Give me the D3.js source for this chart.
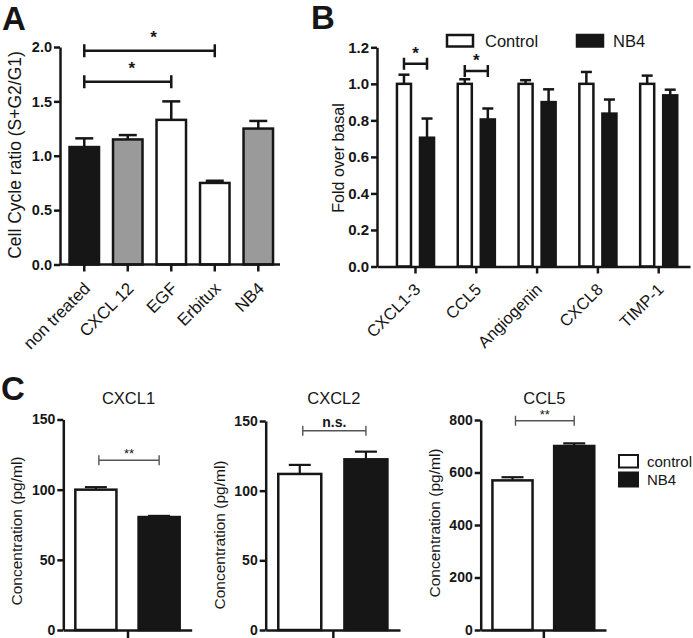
<!DOCTYPE html>
<html><head><meta charset="utf-8">
<script src="https://cdn.jsdelivr.net/npm/d3@7"></script>
<style>
body{margin:0;background:#fff;}
svg{display:block;font-family:"Liberation Sans",Arial,Helvetica,sans-serif;}
</style></head><body>
<svg id="fig" width="693" height="638"></svg>
<script>
// ---------- DATA ----------
// Panel A
const catsA = ["non treated", "CXCL 12", "EGF", "Erbitux", "NB4"];
const typeA = ["untreated", "chemokine", "growth", "growth", "chemokine"];
const valsA = [1.08, 1.15, 1.33, 0.75, 1.25];
const errsA = [0.08, 0.04, 0.17, 0.02, 0.07];
const ticksA = [0, 0.5, 1.0, 1.5, 2.0];
const sigFromA = [0, 0];
const sigToA = [2, 3];
const sigLevelA = [1.68, 1.965];
const sigLabelA = ["*", "*"];

// Panel B
const catsB = ["CXCL1-3", "CCL5", "Angiogenin", "CXCL8", "TIMP-1"];
const seriesB = ["Control", "NB4"];
const controlB = [1.0, 1.0, 1.0, 1.0, 1.0];
const controlErrB = [0.05, 0.025, 0.02, 0.065, 0.045];
const nb4B = [0.705, 0.805, 0.90, 0.837, 0.937];
const nb4ErrB = [0.105, 0.06, 0.07, 0.077, 0.031];
const ticksB = [0, 0.2, 0.4, 0.6, 0.8, 1.0, 1.2];
const sigCatB = [0, 1];
const sigLevelB = [1.11, 1.07];
const sigLabelB = ["*", "*"];

// Panel C
const panelsC = ["CXCL1", "CXCL2", "CCL5"];
const groupsC = ["control", "NB4"];
const cxcl1Vals = [100, 80.5];
const cxcl1Errs = [1.8, 0.8];
const cxcl2Vals = [112, 122.5];
const cxcl2Errs = [6.5, 5.5];
const ccl5Vals = [570, 701];
const ccl5Errs = [12, 10];
const maxC = [150, 150, 800];
const ticksCXCL = [0, 50, 100, 150];
const ticksCCL5 = [0, 200, 400, 600, 800];
const sigLabelC = ["**", "n.s.", "**"];
const sigLevelC = [121, 143, 797];

// ---------- DRAWING ----------
const svg = d3.select("#fig");
const INK = "#161616";
const colorA = d3.scaleOrdinal(["untreated", "chemokine", "growth"], [INK, "#9a9a9a", "#ffffff"]);
const colorB = d3.scaleOrdinal(seriesB, ["#ffffff", INK]);
const colorC = d3.scaleOrdinal(groupsC, ["#ffffff", INK]);

function styleAxis(g, sw, fs, bold) {
  g.select(".domain").attr("stroke", INK).attr("stroke-width", sw);
  g.selectAll(".tick line").attr("stroke", INK).attr("stroke-width", sw);
  g.selectAll(".tick text").attr("fill", INK).attr("font-size", fs)
    .attr("font-weight", bold ? "bold" : "normal")
    .attr("font-family", '"Liberation Sans",Arial,sans-serif');
}
function panelLetter(t, x, y) {
  svg.append("text").attr("x", x).attr("y", y).text(t)
    .attr("font-size", 33).attr("font-weight", "bold").attr("fill", INK);
}
function yLabel(t, x, y, fs) {
  svg.append("text").attr("transform", `translate(${x},${y}) rotate(-90)`)
    .attr("text-anchor", "middle").attr("dy", "0.35em")
    .attr("font-size", fs).attr("fill", INK).text(t);
}
function errBar(g, cx, yTop, yErr, cap, sw) {
  g.append("line").attr("x1", cx).attr("x2", cx).attr("y1", yTop).attr("y2", yErr)
    .attr("stroke", INK).attr("stroke-width", sw);
  g.append("line").attr("x1", cx - cap / 2).attr("x2", cx + cap / 2).attr("y1", yErr).attr("y2", yErr)
    .attr("stroke", INK).attr("stroke-width", sw);
}
function bracket(g, x1, x2, y, h, sw, color) {
  g.append("path").attr("d", `M${x1},${y - h}V${y + h}M${x1},${y}H${x2}M${x2},${y - h}V${y + h}`)
    .attr("fill", "none").attr("stroke", color).attr("stroke-width", sw);
}

// ===== Panel A =====
panelLetter("A", 2, 30);
const gA = svg.append("g");
const yA = d3.scaleLinear().domain([0, 2]).range([264.5, 47]);
const xA = d3.scaleBand().domain(catsA).range([61, 280]).paddingInner(0.322).paddingOuter(0.178).align(0.55);

catsA.forEach((c, i) => {
  const cx = xA(c) + xA.bandwidth() / 2;
  errBar(gA, cx, yA(valsA[i]), yA(valsA[i] + errsA[i]), 18, 2.5);
});
gA.selectAll("rect.barA").data(catsA).join("rect").attr("class", "barA")
  .attr("x", c => xA(c)).attr("width", xA.bandwidth())
  .attr("y", (c, i) => yA(valsA[i])).attr("height", (c, i) => yA(0) - yA(valsA[i]))
  .attr("fill", (c, i) => colorA(typeA[i])).attr("stroke", INK).attr("stroke-width", 2.5);

const axYA = gA.append("g").attr("transform", "translate(60,0)")
  .call(d3.axisLeft(yA).tickValues(ticksA).tickFormat(d3.format(".1f")).tickSize(6).tickSizeOuter(0).tickPadding(2));
styleAxis(axYA, 2.5, 14.5, true);
const axXA = gA.append("g").attr("transform", `translate(0,${yA(0)})`)
  .call(d3.axisBottom(xA).tickSize(7).tickSizeOuter(0));
styleAxis(axXA, 2.5, 17, false);
axXA.select(".domain").attr("d", `M60,0H280`);
axXA.selectAll(".tick text").attr("y", null).attr("dy", null)
  .attr("text-anchor", "end").attr("transform", "translate(7,25) rotate(-45)");
yLabel("Cell Cycle ratio (S+G2/G1)", 15, 155, 17.5);

sigLabelA.forEach((lab, i) => {
  const x1 = xA(catsA[sigFromA[i]]) + xA.bandwidth() / 2;
  const x2 = xA(catsA[sigToA[i]]) + xA.bandwidth() / 2;
  const y = yA(sigLevelA[i]);
  bracket(gA, x1, x2, y, 6.5, 2.5, INK);
  gA.append("text").attr("x", (x1 + x2) / 2 + 4).attr("y", y - 8).attr("text-anchor", "middle")
    .attr("font-size", 17).attr("font-weight", "bold").attr("fill", INK).text(lab);
});

// ===== Panel B =====
panelLetter("B", 311, 29);
const gB = svg.append("g");
const yB = d3.scaleLinear().domain([0, 1.2]).range([266.5, 47.3]);
const xB = d3.scaleBand().domain(catsB).range([377, 690]).paddingInner(0.39).paddingOuter(0.269).align(0.61);
const xBs = d3.scaleBand().domain(seriesB).range([0, xB.bandwidth()]).paddingInner(0.39).paddingOuter(0);
const rowsB = catsB.map((c, i) => [
  { cat: c, s: "Control", v: controlB[i], e: controlErrB[i] },
  { cat: c, s: "NB4", v: nb4B[i], e: nb4ErrB[i] }
]).flat();
rowsB.forEach(d => {
  const cx = xB(d.cat) + xBs(d.s) + xBs.bandwidth() / 2;
  errBar(gB, cx, yB(d.v), yB(d.v + d.e), 11, 2.5);
});
gB.selectAll("rect.barB").data(rowsB).join("rect").attr("class", "barB")
  .attr("x", d => xB(d.cat) + xBs(d.s)).attr("width", xBs.bandwidth())
  .attr("y", d => yB(d.v)).attr("height", d => yB(0) - yB(d.v))
  .attr("fill", d => colorB(d.s)).attr("stroke", INK).attr("stroke-width", 2.5);
const axYB = gB.append("g").attr("transform", "translate(377,0)")
  .call(d3.axisLeft(yB).tickValues(ticksB).tickFormat(d3.format(".1f")).tickSize(6).tickSizeOuter(0).tickPadding(2));
styleAxis(axYB, 2.5, 15, true);
const axXB = gB.append("g").attr("transform", `translate(0,${yB(0)})`)
  .call(d3.axisBottom(xB).tickSize(7).tickSizeOuter(0));
styleAxis(axXB, 2.5, 16.5, false);
axXB.selectAll(".tick text").attr("y", null).attr("dy", null)
  .attr("text-anchor", "end").attr("transform", "translate(6,24) rotate(-45)");
yLabel("Fold over basal", 338, 158, 16);

sigLabelB.forEach((lab, i) => {
  const c = catsB[sigCatB[i]];
  const x1 = xB(c) + xBs("Control") + xBs.bandwidth() / 2;
  const x2 = xB(c) + xBs("NB4") + xBs.bandwidth() / 2;
  const y = yB(sigLevelB[i]);
  bracket(gB, x1, x2, y, 6, 2.5, INK);
  gB.append("text").attr("x", (x1 + x2) / 2).attr("y", y - 5).attr("text-anchor", "middle")
    .attr("font-size", 17).attr("font-weight", "bold").attr("fill", INK).text(lab);
});
// legend B
const legB = gB.append("g");
seriesB.forEach((s, i) => {
  const lx = [447, 577][i];
  legB.append("rect").attr("x", lx).attr("y", 35).attr("width", 26).attr("height", 11.5)
    .attr("fill", colorB(s)).attr("stroke", INK).attr("stroke-width", 2.5);
  legB.append("text").attr("x", lx + [38, 36][i]).attr("y", 47).attr("font-size", 16.5)
    .attr("fill", INK).text(s);
});

// ===== Panel C =====
panelLetter("C", 1, 400);
const valsC = [cxcl1Vals, cxcl2Vals, ccl5Vals];
const errsC = [cxcl1Errs, cxcl2Errs, ccl5Errs];
const ticksC = [ticksCXCL, ticksCXCL, ticksCCL5];
const xRangeC = [[63.3, 191.7], [265.7, 400], [480.7, 606]];
const yTopC = [419.5, 421, 420];
const yLabX = [17, 220, 435];
const yLabY = [531, 535, 523];
panelsC.forEach((name, p) => {
  const g = svg.append("g");
  const y = d3.scaleLinear().domain([0, maxC[p]]).range([630, yTopC[p]]);
  const x = d3.scaleBand().domain(groupsC).range(xRangeC[p]).paddingInner(0.35).paddingOuter(0.19);
  groupsC.forEach((grp, i) => {
    const cx = x(grp) + x.bandwidth() / 2;
    errBar(g, cx, y(valsC[p][i]), y(valsC[p][i] + errsC[p][i]), 22, 2.2);
  });
  g.selectAll("rect").data(groupsC).join("rect")
    .attr("x", d => x(d)).attr("width", x.bandwidth())
    .attr("y", (d, i) => y(valsC[p][i])).attr("height", (d, i) => 630 - y(valsC[p][i]))
    .attr("fill", d => colorC(d)).attr("stroke", INK).attr("stroke-width", 2.5);
  const ay = g.append("g").attr("transform", `translate(${xRangeC[p][0]},0)`)
    .call(d3.axisLeft(y).tickValues(ticksC[p]).tickSize(6).tickSizeOuter(0).tickPadding(2));
  styleAxis(ay, 2.5, 14, true);
  const xp = d3.scalePoint().domain([name]).range(xRangeC[p]).padding(0.5);
  const ax = g.append("g").attr("transform", "translate(0,630)")
    .call(d3.axisBottom(xp).tickSize(10).tickSizeOuter(0).tickFormat(""));
  styleAxis(ax, 2.5, 14, false);
  yLabel("Concentration (pg/ml)", yLabX[p], yLabY[p], 15.5);
  g.append("text").attr("x", (xRangeC[p][0] + xRangeC[p][1]) / 2 + 1).attr("y", 404)
    .attr("text-anchor", "middle").attr("font-size", 16.5).attr("fill", INK).text(name);
  // significance
  const x1 = x(groupsC[0]) + x.bandwidth() / 2 + 3;
  const x2 = x(groupsC[1]) + x.bandwidth() / 2;
  const yy = y(sigLevelC[p]);
  bracket(g, x1, x2, yy, 5, 1.4, "#555");
  const ns = sigLabelC[p] === "n.s.";
  g.append("text").attr("x", (x1 + x2) / 2).attr("y", yy - (ns ? 4 : 2)).attr("text-anchor", "middle")
    .attr("font-size", ns ? 14 : 13).attr("font-weight", ns ? "bold" : "normal")
    .attr("fill", INK).text(sigLabelC[p]);
});
// legend C
groupsC.forEach((grp, i) => {
  svg.append("rect").attr("x", 619).attr("y", [455, 472.5][i]).attr("width", 19).attr("height", [12.5, 14][i])
    .attr("fill", colorC(grp)).attr("stroke", INK).attr("stroke-width", 2);
  svg.append("text").attr("x", 647).attr("y", [466.5, 484.5][i]).attr("font-size", 15)
    .attr("fill", INK).text(grp);
});
</script>
</body></html>
